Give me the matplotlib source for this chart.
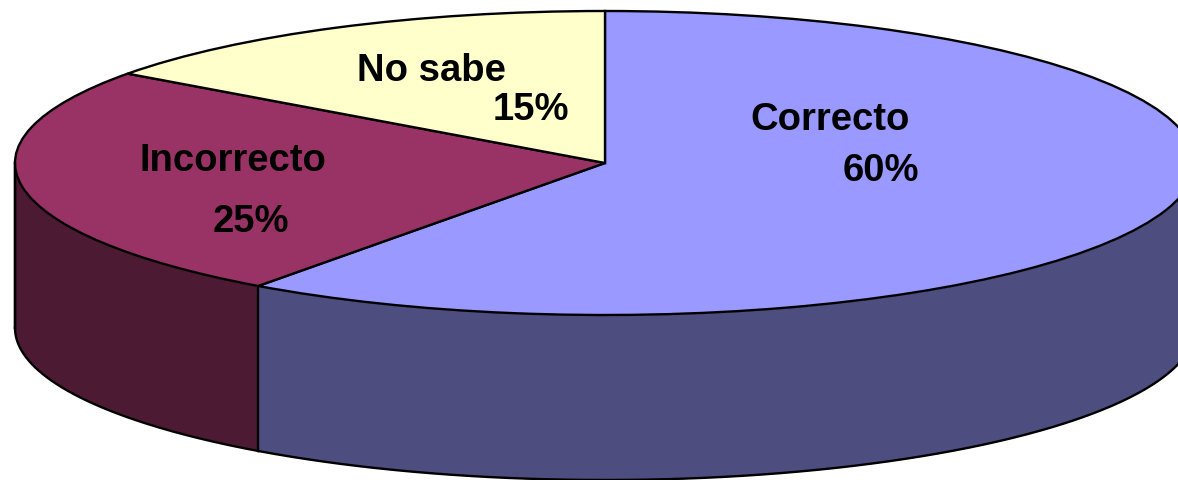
import numpy as np
import matplotlib
matplotlib.use("Agg")
import matplotlib.pyplot as plt

labels = ["Correcto", "Incorrecto", "No sabe"]
values = [60, 25, 15]
colors = ["#9999FF", "#993366", "#FFFFCC"]
side_colors = ["#4D4D80", "#4D1A33", "#808066"]

plt.rcParams["font.family"] = ["Liberation Sans", "DejaVu Sans"]

fig = plt.figure(figsize=(11.78, 4.8), dpi=100)
ax = fig.add_axes([0, 0, 1, 1])

# pixel geometry of the ellipse, one data unit = one radius
cx, cy = 605, 163
rx, ry = 590, 152
depth = 165 / ry
line_w = 1.7

# side wall first, only the part facing the viewer
start = 90
for val, side in zip(values, side_colors):
    end = start - val * 3.6
    a0, a1 = max(end, -180), min(start, 0)
    if a1 > a0:
        t = np.radians(np.linspace(a0, a1, 200))
        x = np.cos(t)
        y = np.sin(t)
        ax.fill_between(x, y, y - depth, color=side, lw=0, zorder=1)
        ax.plot(x, y - depth, color="black", lw=line_w, zorder=2)
        ax.plot([x[0], x[0]], [y[0], y[0] - depth], color="black", lw=line_w, zorder=2)
    start = end
ax.plot([-1, -1], [0, -depth], color="black", lw=line_w, zorder=2)

wedges, _ = ax.pie(values, colors=colors, startangle=90, counterclock=False,
                   wedgeprops={"edgecolor": "black", "linewidth": line_w, "zorder": 3})

ax.set_aspect("auto")
ax.set_xlim(-cx / rx, (1178 - cx) / rx)
ax.set_ylim((cy - 480) / ry, cy / ry)
ax.axis("off")


def put(px, py, s):
    ax.text((px - cx) / rx, (cy - py) / ry, s, fontsize=27.5, fontweight="bold",
            color="black", ha="center", va="center", zorder=5)


put(830, 120, labels[0])
put(881, 171, f"{values[0]}%")
put(233, 161, labels[1])
put(251, 222, f"{values[1]}%")
put(431, 71, labels[2])
put(531, 110, f"{values[2]}%")

fig.savefig("out.png", dpi=100)
